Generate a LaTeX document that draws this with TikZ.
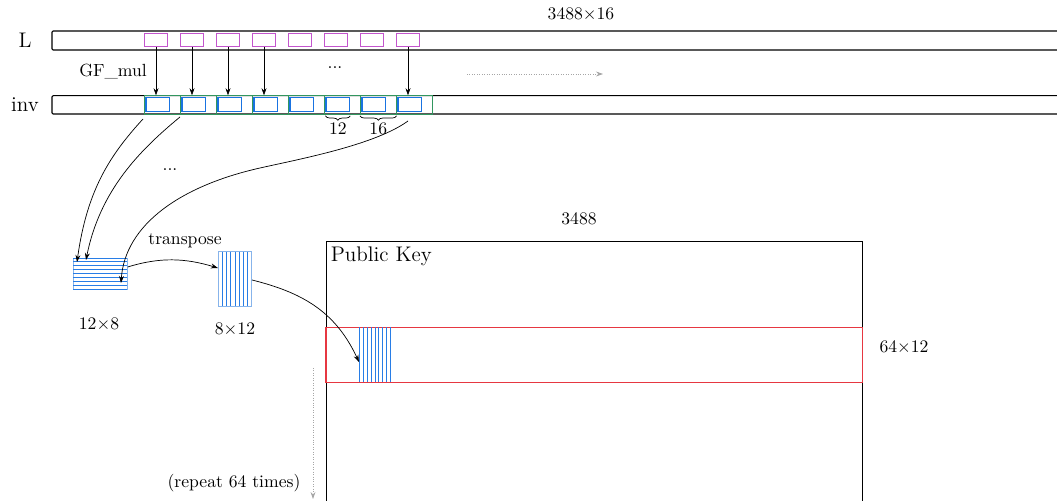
\documentclass[tikz,border=0pt]{standalone}
\usetikzlibrary{arrows.meta,decorations.pathreplacing}
\definecolor{magbox}{RGB}{195,85,205}
\definecolor{greencell}{RGB}{50,150,95}
\definecolor{bluebox}{RGB}{25,115,225}
\definecolor{bluelines}{RGB}{40,125,230}
\definecolor{lightblue}{RGB}{135,180,235}
\definecolor{redrow}{RGB}{230,55,65}
\def\U{0.5676pt}
\tikzset{
  bar/.style={draw, semithick, rounded corners=0.6pt},
  magcell/.style={draw=magbox, semithick, minimum width=23.5*\U, minimum height=13.4*\U, inner sep=0pt},
  greencellbox/.style={draw=greencell, minimum width=36*\U, minimum height=18.3*\U, inner sep=0pt},
  bluecell/.style={draw=bluebox, line width=0.7pt, minimum width=23.7*\U, minimum height=14.4*\U, inner sep=0pt},
  arr/.style={-{Stealth[length=4pt,width=2.8pt]}},
  grayarr/.style={densely dotted, gray!70, -{Stealth[length=4pt,width=2.8pt]}},
  blk/.style={draw=lightblue, inner sep=0pt},
  bl/.style={draw=bluelines, line width=0.55pt},
  lbl/.style={inner sep=1pt},
  bigl/.style={inner sep=1pt, font=\large},
  braceb/.style={decorate, decoration={brace, mirror, amplitude=2.5pt}}
}
\begin{document}
\begin{tikzpicture}[x=0.5676pt,y=-0.5676pt]
\clip (0,0) rectangle (1057,501);
% bars
\draw[bar] (1075,31) -- (52,31) -- (52,50) -- (1075,50);
\draw[bar] (1075,95.7) -- (52,95.7) -- (52,114) -- (1075,114);
\node[bigl] (Llab) at (25,40) {L};
\node[bigl] (invlab) at (25,105) {inv};
\node[lbl] (top) at (581,15) {$3488{\times}16$};
% cells
\foreach \i in {1,...,8}{
  \node[magcell] (m\i) at ({156+36*(\i-1)},40) {};
  \node[greencellbox] (c\i) at ({162.3+36*(\i-1)},104.85) {};
  \node[bluecell] (b\i) at ({157.85+36*(\i-1)},104.5) {};
}
\foreach \i in {1,2,3,4,8}{
  \draw[arr] (m\i.south) -- (m\i.south |- c\i.north);
}
\node[lbl] (gf) at (113,72) {GF\_mul};
\node[lbl] (dots1) at (335,68) {...};
\coordinate (ga) at (467,74);
\coordinate (gb) at (603,74);
\draw[grayarr] (ga) -- (gb);
% braces
\draw[braceb] ([yshift=-1.5*\U]b6.south west |- c6.south) -- ([yshift=-1.5*\U]b6.south east |- c6.south) node[midway, below=2.5pt, lbl] (l12) {12};
\draw[braceb] ([yshift=-1.5*\U]c7.south west) -- ([yshift=-1.5*\U]c7.south east) node[midway, below=2.5pt, lbl] (l16) {16};
% block A (12x8)
\node[blk, minimum width=54*\U, minimum height=31.3*\U] (blockA) at (100.3,273.65) {};
\foreach \k in {0,...,8}{
  \draw[bl] (73.3,{258+\k*3.9125}) -- (127.3,{258+\k*3.9125});
}
% block B (8x12)
\node[blk, minimum width=33.4*\U, minimum height=54.3*\U] (blockB) at (235,278.85) {};
\foreach \k in {1,...,7}{
  \draw[bl] ({218.3+\k*4.175},251.7) -- ({218.3+\k*4.175},306);
}
\node[lbl] (lA) at (99,325) {$12{\times}8$};
\node[lbl] (lB) at (235,330) {$8{\times}12$};
\node[lbl] (tr) at (185,241) {transpose};
\node[lbl] (dots2) at (170,170) {...};
% curves from inv to block A
\coordinate (s1) at (143,119);
\coordinate (s2) at (180,117);
\coordinate (s3) at (408,121);
\coordinate (e1) at (77,262);
\coordinate (e2) at (86,260);
\coordinate (e3) at (121,283);
\draw[arr] (s1) .. controls (110,155) and (87,190) .. (e1);
\draw[arr] (s2) .. controls (140,150) and (100,190) .. (e2);
\draw[arr] (s3) .. controls (375,145) and (300,159) .. (260,168) .. controls (180,186) and (125,225) .. (e3);
\draw[arr] (blockA.east |- 0,267) .. controls (160,257) and (185,258) .. (blockB.west |- 0,268);
% public key
\draw (326,520) -- (326,241) -- (862.5,241) -- (862.5,520);
\node[anchor=north west, font=\large, inner sep=2pt] (pklab) at (327,243) {Public Key};
\node[lbl] (w3488) at (579,219) {$3488$};
\node[draw=redrow, line width=0.7pt, minimum width=536.5*\U, minimum height=55*\U, inner sep=0pt] (row) at (594.25,355) {};
\node[lbl] (l64) at (904,348) {$64{\times}12$};
\node[inner sep=0pt, minimum width=31.4*\U, minimum height=55*\U] (col) at (375,355) {};
\foreach \k in {0,...,8}{
  \draw[bl] ({359.3+\k*3.925},327.5) -- ({359.3+\k*3.925},382.5);
}
\draw[arr] (blockB.east |- 0,280) .. controls (300,292) and (335,310) .. (col.west |- 0,362);
% repeat
\coordinate (ra) at (313,368);
\coordinate (rb) at (313,499);
\draw[grayarr] (ra) -- (rb);
\node[lbl] (rep) at (234,483) {(repeat 64 times)};
\end{tikzpicture}
\end{document}
